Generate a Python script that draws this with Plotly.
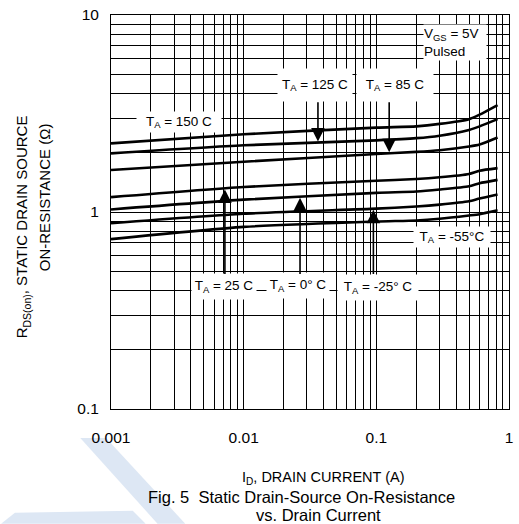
import numpy as np
import plotly.graph_objects as go

# ---------------- data ----------------
current_a = [0.001, 0.01, 0.1, 0.2, 0.3, 0.5, 0.6, 0.82]
r_150 = [2.23, 2.48, 2.68, 2.72, 2.80, 2.96, 3.12, 3.49]
r_125 = [1.985, 2.18, 2.31, 2.37, 2.44, 2.61, 2.72, 2.96]
r_85 = [1.635, 1.80, 1.97, 2.02, 2.06, 2.15, 2.20, 2.39]
r_25 = [1.19, 1.34, 1.44, 1.47, 1.50, 1.56, 1.62, 1.67]
r_0 = [1.03, 1.155, 1.25, 1.27, 1.30, 1.35, 1.40, 1.456]
r_m25 = [0.878, 0.98, 1.04, 1.066, 1.09, 1.134, 1.17, 1.227]
r_m55 = [0.728, 0.84, 0.895, 0.906, 0.924, 0.96, 0.975, 1.02]

series_names = ["T_A = 150 C", "T_A = 125 C", "T_A = 85 C", "T_A = 25 C",
                "T_A = 0° C", "T_A = -25° C", "T_A = -55°C"]
series_values = [r_150, r_125, r_85, r_25, r_0, r_m25, r_m55]

x_tick_vals = [0.001, 0.01, 0.1, 1]
x_tick_text = ["0.001", "0.01", "0.1", "1"]
y_tick_vals = [0.1, 1, 10]
y_tick_text = ["0.1", "1", "10"]

# ---------------- layout geometry ----------------
W, H = 519, 524
L, R, T, B = 111, 6, 14, 115
PW, PH = W - L - R, H - T - B
FONT = "Liberation Sans, Arial, sans-serif"


def px(xp):
    return (xp - L) / PW


def py(yp):
    return (H - B - yp) / PH


def ypix_of_value(v):
    # pixel row of a resistance value on the log y axis (range 0.1..10)
    return T + PH * (1 - np.log10(v)) / 2


fig = go.Figure()
for name, vals in zip(series_names, series_values):
    fig.add_trace(go.Scatter(x=current_a, y=vals, mode="lines", name=name,
                             line=dict(color="black", width=2.6, shape="spline", smoothing=0.6),
                             showlegend=False, hoverinfo="skip"))

# watermark shapes (light blue)
wm = "#dde7f4"
fig.add_shape(type="path", xref="paper", yref="paper", layer="below",
              path=f"M {px(80)} {py(438)} L {px(106)} {py(438)} L {px(186)} {py(524)} L {px(158)} {py(524)} Z",
              fillcolor=wm, line=dict(width=0))
fig.add_shape(type="path", xref="paper", yref="paper", layer="below",
              path=f"M {px(14)} {py(513)} L {px(133)} {py(511)} L {px(146)} {py(524)} L {px(0)} {py(524)} Z",
              fillcolor=wm, line=dict(width=0))

# label boxes: (text, center x px, center y px, width, height, align)
labels = [
    ("T<sub>A</sub> = 150 C", 180, 121, 84, 20, "center"),
    ("T<sub>A</sub> = 125 C", 317, 84, 74, 32, "center"),
    ("T<sub>A</sub> = 85 C", 398, 84, 76, 32, "center"),
    ("V<sub>GS</sub> = 5V<br>Pulsed", 458, 42, 62, 35, "left"),
    ("T<sub>A</sub> = 25 C", 225, 286, 64, 25, "center"),
    ("T<sub>A</sub> = 0° C", 300, 285, 62, 25, "center"),
    ("T<sub>A</sub> = -25° C", 381, 287, 80, 25, "center"),
    ("T<sub>A</sub> = -55°C", 455, 237, 76, 20, "center"),
]
for text, cx, cy, w, h, al in labels:
    fig.add_annotation(xref="paper", yref="paper", x=px(cx), y=py(cy),
                       xanchor="center", yanchor="middle", text=text,
                       showarrow=False, bgcolor="white", width=w, height=h,
                       align=al, borderpad=0,
                       font=dict(family=FONT, size=13.5, color="black"))

# arrows: (curve index, current at arrow, tail y pixel)
arrows = [(1, 0.0363, 100), (2, 0.125, 100), (3, 0.00722, 275), (4, 0.0266, 275), (5, 0.095, 275)]
for idx, xa, tail in arrows:
    v = float(10 ** np.interp(np.log10(xa), np.log10(current_a), np.log10(series_values[idx])))
    tip = ypix_of_value(v)
    fig.add_annotation(x=np.log10(xa), y=np.log10(v), xref="x", yref="y",
                       text="", showarrow=True, ax=0, ay=tail - tip,
                       arrowhead=2, arrowsize=1.7, arrowwidth=1.6, arrowcolor="black",
                       standoff=1)

# axis titles and caption
fig.add_annotation(xref="paper", yref="paper", x=px(22), y=py(226), textangle=-90,
                   text="R<sub>DS(on)</sub>, STATIC DRAIN SOURCE", showarrow=False,
                   xanchor="center", yanchor="middle", font=dict(family=FONT, size=15, color="black"))
fig.add_annotation(xref="paper", yref="paper", x=px(44), y=py(197), textangle=-90,
                   text="ON-RESISTANCE (Ω)", showarrow=False,
                   xanchor="center", yanchor="middle", font=dict(family=FONT, size=15, color="black"))
fig.add_annotation(xref="paper", yref="paper", x=px(326), y=py(478),
                   text="I<sub>D</sub>, DRAIN CURRENT (A)", showarrow=False,
                   xanchor="center", yanchor="middle", font=dict(family=FONT, size=14.5, color="black"))
fig.add_annotation(xref="paper", yref="paper", x=px(303), y=py(497),
                   text="Fig. 5  Static Drain-Source On-Resistance", showarrow=False,
                   xanchor="center", yanchor="middle", font=dict(family=FONT, size=16.5, color="black"))
fig.add_annotation(xref="paper", yref="paper", x=px(321), y=py(515),
                   text="vs. Drain Current", showarrow=False,
                   xanchor="center", yanchor="middle", font=dict(family=FONT, size=16.5, color="black"))

axis_common = dict(type="log", showgrid=True, gridcolor="black", gridwidth=1,
                   showline=True, linecolor="black", linewidth=1, mirror=True,
                   ticks="", zeroline=False,
                   minor=dict(dtick="D1", showgrid=True, gridcolor="black", gridwidth=1, ticks=""),
                   tickfont=dict(family=FONT, size=15.5, color="black"))
fig.update_xaxes(range=[-3, 0], tickvals=x_tick_vals, ticktext=x_tick_text,
                 ticklabelstandoff=14, **axis_common)
fig.update_yaxes(range=[-1, 1], tickvals=y_tick_vals, ticktext=y_tick_text,
                 ticklabelstandoff=8, **axis_common)

fig.update_layout(width=W, height=H, margin=dict(l=L, r=R, t=T, b=B),
                  paper_bgcolor="white", plot_bgcolor="white",
                  font=dict(family=FONT, color="black"))

fig.write_html("out.html")
